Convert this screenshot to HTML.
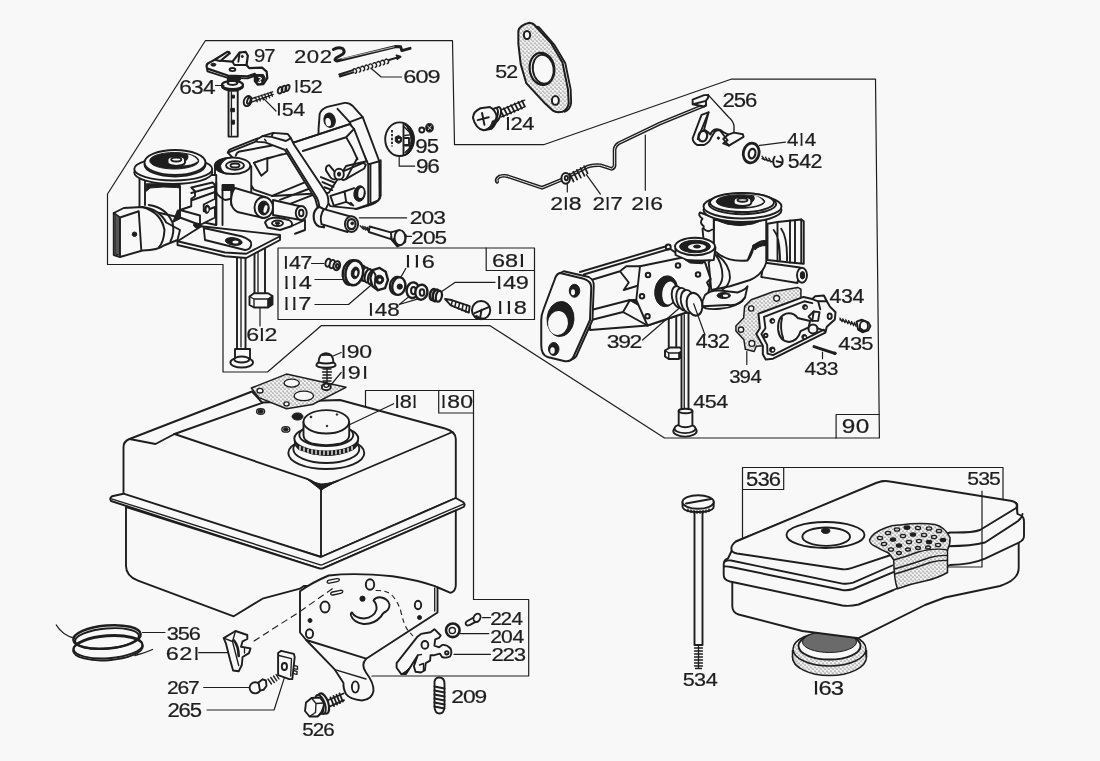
<!DOCTYPE html>
<html lang="en"><head><meta charset="utf-8"><title>Carburetor, fuel tank and air cleaner - exploded parts diagram</title>
<style>
html,body{margin:0;padding:0;background:#f8f8f8;}
body{width:1100px;height:761px;overflow:hidden;font-family:"Liberation Sans",sans-serif;}
svg{display:block;filter:grayscale(1);}
svg *{vector-effect:non-scaling-stroke;}
svg text{font-family:"Liberation Sans",sans-serif;fill:#1e1e1e;stroke:#1e1e1e;stroke-width:0.25;}
.l{vector-effect:non-scaling-stroke;fill:none;stroke:#1e1e1e;stroke-width:1.2;stroke-linecap:round;stroke-linejoin:round;}
.p{vector-effect:non-scaling-stroke;fill:none;stroke:#1e1e1e;stroke-width:1.9;stroke-linecap:round;stroke-linejoin:round;}
.pf{vector-effect:non-scaling-stroke;fill:#f8f8f8;stroke:#1e1e1e;stroke-width:1.9;stroke-linecap:round;stroke-linejoin:round;}
.t{vector-effect:non-scaling-stroke;fill:none;stroke:#1e1e1e;stroke-width:1.35;stroke-linecap:round;stroke-linejoin:round;}
.tf{vector-effect:non-scaling-stroke;fill:#f8f8f8;stroke:#1e1e1e;stroke-width:1.35;stroke-linecap:round;stroke-linejoin:round;}
.h{vector-effect:non-scaling-stroke;fill:none;stroke:#1e1e1e;stroke-width:2.6;stroke-linecap:round;stroke-linejoin:round;}
.k{vector-effect:non-scaling-stroke;fill:#1e1e1e;stroke:#1e1e1e;stroke-width:1;stroke-linejoin:round;}
.g{vector-effect:non-scaling-stroke;fill:#e0e0e0;stroke:#1e1e1e;stroke-width:1.5;stroke-linejoin:round;}
.d{vector-effect:non-scaling-stroke;fill:none;stroke:#1e1e1e;stroke-width:1.1;stroke-dasharray:7 4;}
</style></head>
<body>
<svg width="1100" height="761" viewBox="0 0 1100 761" role="img">
<defs>
<pattern id="st" width="4" height="4" patternUnits="userSpaceOnUse"><rect width="4" height="4" fill="#f1f1f1"/><circle cx="1" cy="1" r=".62" fill="#333"/><circle cx="3" cy="3.1" r=".55" fill="#444"/><circle cx="3.2" cy=".8" r=".3" fill="#666"/></pattern>
<pattern id="st6" width="4" height="4" patternUnits="userSpaceOnUse" patternTransform="scale(6.343)"><rect width="4" height="4" fill="#f1f1f1"/><circle cx="1" cy="1" r=".62" fill="#333"/><circle cx="3" cy="3.1" r=".55" fill="#444"/><circle cx="3.2" cy=".8" r=".3" fill="#666"/></pattern>
<pattern id="st7" width="4" height="4" patternUnits="userSpaceOnUse" patternTransform="scale(6.875)"><rect width="4" height="4" fill="#f1f1f1"/><circle cx="1" cy="1" r=".62" fill="#333"/><circle cx="3" cy="3.1" r=".55" fill="#444"/><circle cx="3.2" cy=".8" r=".3" fill="#666"/></pattern>
<clipPath id="one"><rect x="4.70" y="-15" width="1.92" height="15.1"/></clipPath>
</defs>
<rect x="0" y="0" width="1100" height="761" fill="#f8f8f8"/>
<!-- 00_frame.py -->

<g class="l">
<path d="M205.3 40.7H452.5L454.5 144.7H543.6L731 79.2H875.5L879.4 438H664.5L490 325.7H321.2L267.5 372H223V264.5H107.5V194Z"/>
<rect x="278" y="248" width="256.5" height="71.5"/>
<path d="M486.2 248V270.5H534.5"/>
<path d="M365.5 406.2V390.5H473.5"/>
<path d="M438.7 390.5V413H473.5"/>
<path d="M473.5 390.5V599.5H528.7V676H372"/>
<path d="M742.5 537.5V467.5H1003V500"/>
<path d="M742.5 489.5H783.7V467.5"/>
<path d="M836.1 438V414.5H879.1"/>

</g>

<!-- 10_carbL.py -->

<g id="carbL">
<!-- bolts under plate (target coords) -->
<path class="pf" d="M237 255V349H245.500V255Z"/>
<path class="t" d="M241 258V347"/>
<path class="pf" d="M235 349H250V359.500H235Z"/>
<ellipse class="pf" cx="241.700" cy="362.500" rx="11.300" ry="5"/>
<ellipse class="pf" cx="241.700" cy="359.500" rx="7.500" ry="3"/>
<path class="pf" d="M254.500 248V294H265V248Z"/>
<path class="t" d="M258 250V292"/>
<path class="pf" d="M249.500 296.500L254 293.200H268L272.500 296V304.500L268 307.500H254L249.500 305Z"/>
<path class="t" d="M249.500 296.500L254 299H268L272.500 296M254 299V307.500M268 299V307.500"/>
<path class="k" d="M268 299L272.500 296V304.500L268 307.500Z"/>
<g transform="translate(220 95) scale(.1577)">
<!-- mounting flange -->
<path class="pf" d="M625 330V215L632 120Q640 90 680 75L790 50Q820 48 840 68L905 140L1010 420L1012 650Q1005 680 960 695L870 722L700 705L625 600Z"/>
<path class="p" d="M745 88L822 172L905 140M822 172L940 440L1010 420M940 440L940 700"/>
<ellipse class="k" cx="695" cy="160" rx="36" ry="46" transform="rotate(-12 695 160)"/>
<ellipse cx="686" cy="172" rx="17" ry="27" fill="#f8f8f8" transform="rotate(-12 686 172)"/>
<!-- body box top -->
<path class="pf" d="M50 365L240 290L470 300L822 185L850 215L930 420L800 450L690 620L330 640L215 600L100 420Z"/>
<path class="p" d="M470 300L822 185M525 355L800 268L850 215M800 268Q840 330 872 408"/>
<path class="p" d="M50 365Q55 345 75 340L240 275M100 385Q105 365 125 358L330 320M215 430L395 375M300 400L420 372"/>
<path class="pf" d="M215 430L300 400V480L262 512Z"/>
<!-- butterfly lever -->
<path class="pf" d="M728 488L692 445Q668 450 672 478L700 522Q722 545 738 528ZM780 484L908 430L925 442L915 466L800 532Q776 546 765 530Z"/>
<ellipse class="pf" cx="755" cy="502" rx="30" ry="34"/>
<ellipse class="k" cx="755" cy="502" rx="10" ry="13"/>
<path class="p" d="M640 520L730 558M650 552L720 582M662 585L712 603M800 532L870 400"/>
<!-- lower right hole -->
<ellipse class="k" cx="885" cy="625" rx="36" ry="50" transform="rotate(8 885 625)"/>
<ellipse cx="894" cy="622" rx="17" ry="32" fill="#f8f8f8" transform="rotate(8 894 622)"/>
<circle class="k" cx="830" cy="690" r="8"/>
<path class="p" d="M700 640L790 612L800 678L722 702Z"/>
<path class="p" d="M790 612L850 590M800 678L845 700"/>
<!-- body lower lines -->
<path class="p" d="M330 640L560 545M380 665L590 585M420 700L610 625"/>
<!-- strap -->
</g><g transform="translate(210 125) scale(.13144)">
<path class="pf" d="M352 112L400 85L480 60L592 68L615 100L640 150L880 510Q905 545 900 600L850 700L800 700L822 640L800 560L570 190L420 132L360 128Z"/>
<path class="p" d="M582 183L812 552Q838 600 832 690"/>
<path class="p" d="M480 60L468 90L578 122L615 100M468 90L400 85"/>
<path class="t" d="M415 108l12 14"/>
</g>
<g transform="translate(290 150) scale(.1577)">
<!-- flange lower part & tube 203 / screw 205 -->
<path class="p" d="M575 65V290Q572 312 560 320L500 345L415 375M510 90V330"/>
<path style="stroke-width:2.2" class="pf" d="M185 360Q150 380 150 420Q150 470 185 485L215 490L215 375Z"/>
<path class="pf" d="M215 375L395 425L365 520L200 470Q185 420 215 375Z"/>
<ellipse class="pf" cx="390" cy="470" rx="42" ry="50"/>
<ellipse style="stroke-width:2.2" class="p" cx="390" cy="470" rx="26" ry="32"/>
<circle class="k" cx="395" cy="465" r="9"/>
<path class="t" d="M445 480l20 22M460 483l20 24M475 486l20 26M490 490l18 26"/>
<path class="pf" d="M505 485L650 525L640 565L500 520Z"/>
<path class="pf" d="M640 522L690 508L735 540L730 585L680 612L645 570Z"/>
<ellipse class="pf" cx="697" cy="556" rx="34" ry="48"/>
<path class="k" d="M645 570L680 612L700 604Q670 600 655 560Z"/>
</g>
<g transform="translate(105 100) scale(.25)">
<!-- second cylinder (centre) -->
<path class="pf" d="M440 265V350Q440 380 480 400L585 380V265Z"/>
<ellipse class="pf" cx="510" cy="263" rx="71" ry="33"/>
<path class="k" d="M440 262Q445 235 500 230Q470 240 462 262Q462 285 490 296Q445 290 440 262Z"/>
<ellipse class="pf" cx="520" cy="262" rx="36" ry="17"/>
<ellipse class="p" cx="520" cy="262" rx="18" ry="8"/>
<!-- post + nut between cylinders -->
<path class="pf" d="M470 340H515V360H470Z"/>
<path class="k" d="M472 342H513V356H472Z"/>
<path class="p" d="M470 360V500M505 360V420"/>
<!-- horizontal boss -->
<path class="pf" d="M520 352L640 388L635 472L530 448Q500 430 505 395Q508 365 520 352Z"/>
<ellipse class="pf" cx="635" cy="430" rx="37" ry="42"/>
<ellipse class="k" cx="635" cy="432" rx="22" ry="28"/>
<ellipse cx="642" cy="436" rx="7" ry="16" fill="#f8f8f8" transform="rotate(15 642 436)"/>
<!-- small boss right -->
<path class="pf" d="M672 400L780 425L785 480L672 460Z"/>
<ellipse class="pf" cx="785" cy="452" rx="22" ry="28"/>
<ellipse class="p" cx="785" cy="452" rx="9" ry="13"/>
<!-- lug with hole on plate -->
<path class="pf" d="M640 490Q650 470 690 470L735 480Q755 490 745 505L700 520L650 510Z"/>
<ellipse class="p" cx="690" cy="493" rx="22" ry="11"/>
<ellipse class="k" cx="690" cy="493" rx="9" ry="5"/>
<path class="p" d="M745 505L800 480V520L760 535"/>
<!-- base plate -->
<path class="pf" d="M290 565L385 505L700 540V560L565 632L480 625L290 580Z"/>
<path class="p" d="M290 565L480 610L565 615L700 545"/>
<path class="pf" d="M395 512L545 545Q590 560 585 580Q580 600 560 600L400 560Z"/>
<ellipse class="k" cx="515" cy="566" rx="34" ry="15" transform="rotate(8 515 566)"/>
<ellipse cx="522" cy="568" rx="12" ry="6" fill="#f8f8f8"/>
<!-- body under pump chamber -->
<path class="pf" d="M138 300V430L165 440L300 470L445 500V300Z"/>
<path class="p" d="M160 318V420M300 345V445M445 330V500"/>
<path class="k" d="M165 335H300V352L285 350Q230 345 180 352L165 365Z"/>
<path class="pf" d="M345 350L430 330L440 340V395L395 418V445L440 428V470L380 500L300 470V440L345 425V395L360 385V365Z"/>
<path class="p" d="M345 372L440 345M350 400L440 368M300 440L380 462L380 500"/>
<ellipse class="k" cx="408" cy="437" rx="10" ry="17" transform="rotate(10 408 437)"/>
<ellipse cx="410" cy="438" rx="4" ry="9" fill="#f8f8f8"/>
<path class="k" d="M290 440L300 440V475L270 490Z"/>
<path class="k" d="M355 495Q370 488 385 500Q380 515 365 512Q350 505 355 495Z"/>
<!-- pump chamber top -->
<ellipse class="pf" cx="273" cy="290" rx="156" ry="46"/>
<ellipse class="pf" cx="273" cy="276" rx="156" ry="46"/>
<ellipse class="pf" cx="280" cy="258" rx="122" ry="48"/>
<ellipse class="pf" cx="280" cy="250" rx="122" ry="50"/>
<ellipse class="k" cx="277" cy="243" rx="98" ry="33"/>
<path d="M300 262Q350 262 372 244Q360 222 330 218Q345 235 300 262Z" fill="#f8f8f8"/>
<path class="pf" d="M250 238Q252 225 285 224Q318 225 320 238V250Q318 262 285 264Q252 262 250 250Z"/>
<ellipse class="p" cx="285" cy="238" rx="20" ry="8"/>
<!-- choke lever -->
<path class="pf" d="M35 452L75 432L150 428Q215 435 245 490L300 520L290 560L235 582Q215 600 150 602L60 628L35 620Z"/>
<path class="p" d="M60 470V622M60 470L135 445L145 598M35 452L60 470" />
<path style="stroke-width:2" class="p" d="M175 420Q245 430 270 490Q280 530 262 565M150 428Q225 450 238 520Q235 570 215 590"/>
<path style="fill:#555" class="k" d="M40 455L58 470V620L40 616Z"/>
<circle class="k" cx="118" cy="537" r="9"/>
</g>
</g>

<!-- 11_carbR.py -->

<g id="carbR">
<g transform="translate(530 180) scale(.25)">
<!-- bolts below -->
<path class="pf" d="M555 540V680H585V540Z"/>
<path class="pf" d="M540 682L560 670H600L612 682V705L595 716H555L540 706Z"/>
<path class="k" d="M595 690L612 682V705L595 716Z"/>
<path class="t" d="M540 682L555 692H595L612 682M555 692V716"/>
<path class="pf" d="M606 530V925H634V530Z"/>
<path class="t" d="M617 540V920"/>
<!-- pump chamber body -->
<path class="pf" d="M735 160V290L800 330L870 322L895 262L945 245V160Z"/>
<path class="pf" d="M690 195L735 185V290L700 300Z"/>
<!-- fins right -->
<path class="pf" d="M950 175L990 168L1085 158L1095 165V335L1040 330L950 320Z"/>
<path class="p" d="M990 168V325M1040 162V330M1085 158V332M975 200Q1000 230 1000 320M1005 195Q1030 230 1028 322M1060 165V330"/>
<!-- outlet tube right -->
<path class="pf" d="M935 330L1080 350L1070 412L925 388Z"/>
<ellipse class="pf" cx="1088" cy="381" rx="20" ry="30"/>
<ellipse class="k" cx="1090" cy="381" rx="9" ry="15"/>
<!-- elbow -->
<path class="pf" d="M740 285Q790 330 870 322Q890 300 895 262Q925 240 945 245V330Q930 380 880 400L800 425L725 440L715 330Z"/>
<path style="stroke-width:1.9" class="p" d="M750 300Q800 340 800 390Q798 420 770 438M735 290Q770 330 770 385Q768 420 740 440"/>
<path class="k" d="M890 262L945 245V262Q915 262 900 280Z"/>
<!-- chamber top -->
<path class="k" d="M737 140Q840 196 944 140V156Q840 208 737 158Z"/>
<path class="pf" d="M680 130Q670 140 690 155Q675 170 695 185Q690 200 715 205L735 195V150Z"/>
<ellipse class="pf" cx="850" cy="120" rx="156" ry="48"/>
<ellipse class="pf" cx="850" cy="106" rx="156" ry="48"/>
<ellipse class="pf" cx="850" cy="95" rx="135" ry="42"/>
<ellipse class="pf" cx="848" cy="90" rx="128" ry="38"/>
<ellipse class="k" cx="842" cy="86" rx="97" ry="27"/>
<path d="M860 108Q915 105 935 88Q925 68 895 63Q912 82 860 108Z" fill="#f8f8f8"/>
<path class="pf" d="M815 80Q817 68 850 67Q883 68 885 80V92Q883 103 850 104Q817 103 815 92Z"/>
<ellipse class="p" cx="850" cy="80" rx="20" ry="7"/>
<!-- main body block -->
<path class="pf" d="M215 378L560 275L610 310L700 330L722 395L715 440L700 505L470 582L240 600L245 425Z"/>
<path class="p" d="M200 368L545 265M245 400L360 365L385 345L440 345M360 365L395 410L375 440L440 420M245 520L400 480L425 480M245 560L372 528L400 480M372 528L470 582"/>
<path class="k" d="M395 480L425 480L440 505Z"/>
<!-- front face -->
<path class="pf" d="M440 345L610 310L700 330L722 395L708 410L718 430L700 505L470 582L425 480Z"/>
<ellipse class="k" cx="545" cy="445" rx="46" ry="62" transform="rotate(8 545 445)"/>
<ellipse cx="556" cy="452" rx="27" ry="46" fill="#f8f8f8" transform="rotate(8 556 452)"/>
<g style="stroke-width:2" class="p"><circle cx="472" cy="380" r="9"/><circle cx="592" cy="342" r="9"/><circle cx="672" cy="378" r="9"/><circle cx="448" cy="465" r="9"/><circle cx="470" cy="545" r="9"/></g>
<!-- welch plug 432 -->
<ellipse class="pf" cx="592" cy="468" rx="24" ry="44" transform="rotate(-12 592 468)"/>
<ellipse class="pf" cx="612" cy="477" rx="26" ry="46" transform="rotate(-12 612 477)"/>
<ellipse class="pf" cx="632" cy="486" rx="28" ry="47" transform="rotate(-12 632 486)"/>
<ellipse style="stroke-width:2" class="pf" cx="658" cy="497" rx="31" ry="46" transform="rotate(-12 658 497)"/>
<!-- needle boss on top -->
<path class="pf" d="M582 275V300L640 325L735 320L742 270Z"/>
<ellipse class="pf" cx="660" cy="266" rx="80" ry="35"/>
<ellipse class="k" cx="660" cy="266" rx="62" ry="25"/>
<ellipse cx="668" cy="268" rx="36" ry="13" fill="#f8f8f8"/>
<ellipse class="k" cx="668" cy="266" rx="14" ry="6"/>
<path class="k" d="M618 318L700 322L690 335L640 332Z"/>
<circle class="p" cx="553" cy="268" r="10"/>
<!-- mounting ear -->
<path class="pf" d="M700 460Q720 440 760 442L830 450Q860 440 870 425L860 470Q840 505 790 500L690 505L690 485Z"/>
<ellipse class="k" cx="775" cy="462" rx="27" ry="12"/>
<ellipse cx="782" cy="463" rx="11" ry="5" fill="#f8f8f8"/>
<path class="p" d="M690 505Q700 520 760 515Q830 510 860 470"/>
<!-- flange -->
<path class="pf" d="M135 365L235 388Q258 400 255 425L250 560L185 705Q170 722 150 720L120 372Z"/>
<path style="stroke-width:2" class="pf" d="M120 372L215 395Q245 405 245 430L240 560L175 705Q165 728 140 725L70 708Q45 700 45 660V560Q45 540 55 515L98 400Q105 375 120 372Z"/>
<ellipse class="k" cx="122" cy="556" rx="54" ry="70" transform="rotate(5 122 556)"/>
<ellipse cx="112" cy="572" rx="40" ry="48" fill="#f8f8f8" transform="rotate(5 112 572)"/>
<ellipse class="k" cx="178" cy="443" rx="21" ry="26"/>
<ellipse cx="172" cy="449" rx="8" ry="12" fill="#f8f8f8"/>
<ellipse class="k" cx="95" cy="676" rx="21" ry="26"/>
<ellipse cx="90" cy="682" rx="9" ry="13" fill="#f8f8f8"/>
</g>
<!-- bolt 454 head (target coords) -->
<ellipse class="pf" cx="685" cy="431" rx="11.700" ry="5.600"/>
<ellipse class="pf" cx="685" cy="428.500" rx="10.500" ry="4.600"/>
<path class="pf" d="M678.700 411V425.500Q685 429 692.400 425.500V411Z"/>
<ellipse class="pf" cx="685.500" cy="411" rx="6.900" ry="2.200"/>
</g>

<!-- 12_pumpcover.py -->

<g id="pumpcover">
<g transform="translate(725 270) scale(.14545)">
<!-- gasket 394 -->
<path style="fill:url(#st7)" class="g" d="M75 385L128 330L135 250L180 205L330 150L500 120L522 132V200L300 330L260 520L215 525L200 560L140 545L130 480L75 420Z"/>
<g class="tf"><circle cx="180" cy="265" r="18"/><circle cx="355" cy="195" r="20"/><circle cx="110" cy="410" r="18"/><circle cx="185" cy="505" r="20"/></g>
<!-- cover 434 -->
<path style="stroke-width:2" class="pf" d="M230 300L540 185L600 200L620 180L680 175L700 215L720 250L760 290L755 340L700 390L690 430L330 610L280 615L260 580L260 520L215 440L240 400Z"/>
<path class="p" d="M268 322L545 215L600 228M268 322L278 400L250 440L290 515L292 575L330 585L680 410"/>
<path class="p" d="M600 200L640 215L700 215M640 215L655 270"/>
<!-- keyhole -->
<path style="stroke-width:2" class="p" d="M500 330Q470 290 420 300Q360 320 365 410Q375 490 440 495Q500 490 520 420L575 395L585 350L520 335Z"/>
<path class="p" d="M392 330Q375 400 400 470"/>
<!-- holes -->
<g class="k"><circle cx="325" cy="350" r="17"/><circle cx="550" cy="255" r="17"/><circle cx="545" cy="460" r="17"/><circle cx="325" cy="548" r="19"/></g>
<g fill="#f8f8f8"><circle cx="329" cy="353" r="7"/><circle cx="554" cy="258" r="7"/><circle cx="549" cy="463" r="7"/><circle cx="329" cy="551" r="8"/></g>
<circle class="p" cx="280" cy="450" r="12"/>
<ellipse class="p" cx="720" cy="318" rx="14" ry="19"/>
<circle style="stroke-width:2" class="pf" cx="605" cy="405" r="31"/>
<path class="p" d="M635 400L690 420"/>
<path class="pf" d="M575 320L610 285L650 290L640 350L600 350Z"/>
<path class="p" d="M610 285L600 350"/>
<!-- screw 435 -->
<path class="t" d="M790 330l15 25M810 336l15 26M830 342l15 27M850 348l15 28M870 354l15 29M890 360l12 28M790 342L900 376"/>
<path class="pf" d="M905 355L940 342L985 360L1000 385L985 415L945 428L915 410Z"/>
<ellipse class="p" cx="955" cy="385" rx="28" ry="34"/>
<path class="k" d="M915 410L945 428L985 415Q950 420 925 395Z"/>
<!-- pin 433 -->
<path style="stroke-width:3" class="p" d="M612 527L755 573"/>
<circle class="k" cx="756" cy="573" r="9"/>
</g>
</g>

<!-- 20_tank.py -->

<g id="tank">
<!-- upper body -->
<path class="pf" d="M123.5 496V447Q123.5 441.5 129.5 439L252 391.5L262 402.5L340 400L445 428.5Q455.8 431.5 455.8 439V498L321 557Z"/>
<!-- notch and top face edges -->
<path class="p" d="M129.5 439L155.5 444L174.5 434"/>
<path class="p" d="M174.5 434L262.3 402.8"/>
<path class="p" d="M174.5 434L307 478.8Q317 482.5 321 489.5"/>
<path class="p" d="M452.5 432L338.5 480.5Q325 485.5 321 489.5"/>
<path class="p" d="M321 489.5V556.5"/>
<path class="k" d="M306 478.3L321 490L336.5 481.3Q326 484 321 484Q314 483 306 478.3Z"/>
<!-- flange -->
<path class="pf" d="M123.5 493.7L112 496.3Q109 498 111 501L319 568.3Q321 569 323 568.3L463.5 507Q466 504.5 463 502L455.8 498L321 557Z"/>
<path class="t" d="M111.5 498.8L319.5 564.7Q321 565.3 322.5 564.7L464 503.8"/>
<!-- lower body -->
<path class="pf" d="M126 507V566Q126 576 138 580.7L233.7 616.3L262.5 598.7L300 588.7L303.8 586L436.8 587L450.6 592.8Q455.8 591 455.8 585V510.5L323 568.3Q321 569 319 568.3Z"/>
<!-- tank top small holes -->
<ellipse class="k" cx="260.6" cy="411.5" rx="2.6" ry="1.8"/>
<ellipse class="t" cx="260.6" cy="411.5" rx="4" ry="2.8"/>
<ellipse class="k" cx="285.8" cy="429.4" rx="2.4" ry="1.7"/>
<ellipse class="t" cx="285.8" cy="429.4" rx="4" ry="2.8"/>
<!-- cap -->
<ellipse class="pf" cx="326.3" cy="453" rx="38" ry="16"/>
<ellipse class="pf" cx="326.3" cy="449" rx="33" ry="14"/>
<path class="k" d="M294.3 440Q294 446 299 449.5Q312 455.5 326.3 455.5Q341 455.5 353.5 449.5Q358.5 446 358.3 440Q357 445 349 448Q338 451 326.3 451Q314 451 303 448Q295 445 294.3 440Z"/>
<ellipse class="pf" cx="326.3" cy="438.5" rx="32" ry="13"/>
<ellipse class="pf" cx="326.3" cy="435" rx="27" ry="11"/>
<path class="pf" d="M303.5 422V435.5Q303.5 441 313 443.8Q326 446.5 339.5 443.8Q349.2 441 349.2 435.5V422Z"/>
<ellipse class="pf" cx="326.3" cy="421.8" rx="22.8" ry="11.7"/>
<ellipse class="k" cx="297.5" cy="416.5" rx="5.5" ry="3.6"/>
<circle class="k" cx="311" cy="417" r="0.9"/><circle class="k" cx="337" cy="414.5" r="0.8"/><circle class="k" cx="327" cy="426" r="0.8"/>
<g style="stroke:#f8f8f8" class="t"><path stroke="#f8f8f8" d="M300 446.5v3M304 448v3M308 449.3v3M312 450v3.2M316 450.6v3.3M320 451v3.4M324 451.2v3.4M328 451.2v3.4M332 451v3.4M336 450.7v3.3M340 450.2v3.2M344 449.4v3M348 448.2v3M352 446.6v3"/></g>
<!-- gasket under 190/191 -->
<path style="fill:url(#st)" class="g" d="M251.3 388L286.5 374.1L346 387.3L312.4 404.5L286.5 408.7L258.9 397.6Z"/>
<ellipse class="tf" cx="291.7" cy="383.1" rx="7.6" ry="4"/>
<ellipse class="tf" cx="303.8" cy="395.9" rx="9.7" ry="4.8"/>
<ellipse class="tf" cx="260" cy="390.7" rx="3" ry="2.3"/>
<ellipse class="tf" cx="286.5" cy="403.9" rx="2.6" ry="2"/>
<!-- screw 190 / spring 191 -->
<path class="t" d="M323 369h8M322.5 372h9M323 375h8M322.5 378h9M323 381h8M327 368V383"/>
<ellipse class="pf" cx="326.3" cy="387" rx="4.5" ry="3.2"/>
<ellipse class="tf" cx="326.3" cy="385.6" rx="2.4" ry="1.7"/>
<path class="pf" d="M316.5 364.5Q315.5 367.5 326 367.8Q336.5 367.5 335.5 364.5Q335 361.5 326 361.5Q317 361.5 316.5 364.5Z"/>
<path class="pf" d="M318.5 362.5Q319 353.3 326 353.3Q333 353.3 333.5 362.5Q326 364.5 318.5 362.5Z"/>
<path class="k" d="M322 355.5Q326 352.5 330.5 355.5Q326 354.8 322 355.5Z"/>
</g>

<!-- 30_bracket.py -->

<g id="bracket">
<!-- dashed guide lines -->
<path class="d" d="M253.7 641.2L300 611.5"/>
<!-- plate -->
<path class="pf" d="M300 591.2Q312 582.5 328.7 575.5Q355 572.5 392.5 576.2Q418 580 435 586.2L437.5 587.5V612.5L366.2 658.7Q360.5 665 366 672.5Q374 683 373.5 691Q372 699.5 362 700.5Q350 699.5 346 694Q343 688 343.5 683L334.9 669.7L306.2 640L300 632.5Z"/>
<path class="t" d="M434.7 588V611"/>
<path class="p" d="M306.2 640L366.2 658.7"/>
<path class="t" d="M334.9 669.7L366 679"/>
<!-- holes -->
<ellipse class="p" cx="370" cy="584.5" rx="4.2" ry="5.2"/>
<ellipse class="p" cx="325" cy="607" rx="4.5" ry="5.5"/>
<ellipse class="p" cx="418" cy="605" rx="3.2" ry="4.2"/>
<ellipse class="p" cx="309.5" cy="633.7" rx="3.6" ry="4.4"/>
<ellipse class="p" cx="355.3" cy="687" rx="3.4" ry="5.6"/>
<circle class="k" cx="362.5" cy="598.7" r="2.6"/>
<circle class="k" cx="310" cy="620.5" r="2"/>
<circle class="k" cx="419.5" cy="617.5" r="2"/>
<path class="t" d="M329 580.2l8-1.6q2.500-.2 2.300 1.400q-.2 1.300-2.300 1.700l-7.500 1.500q-2.300.2-2.300-1.300q.1-1.300 1.800-1.700Z"/>
<path class="t" d="M332.500 592l8-1.700q2.500-.2 2.300 1.400q-.2 1.300-2.300 1.700l-7.500 1.600q-2.300.2-2.300-1.300q.1-1.300 1.800-1.700Z"/>
<!-- J slot -->
<path class="p" d="M352 612.500Q355 618 364 618.500Q374 617.500 376.500 609.500Q377 604 373.500 600.500Q376 596.500 381.500 597.500Q388 599 389.500 604.500Q389.500 609 386 611.500Q383 612.500 381 616.500Q374 624.500 363.500 624Q353.500 622.500 351 615.500Q350.500 613 352 612.500Z"/>
<!-- dashed curve on plate -->
<path class="d" d="M300 611.5L334 587.5"/>
<path style="stroke-dasharray:5 3.5" class="d" d="M375.7 590.5Q388 590 393.5 597Q399 604 401 612Q404 625 408 630.5L413 636"/>
</g>
<g id="lever223">
<path class="pf" d="M396.6 663.1L417.1 637.1L421 633.9L430.5 632.3L434.4 629.2L440.7 635.5L439.1 637.8L435.2 639.4L434.4 645.7L439.1 647.3L442.3 644.9Q447 644.5 450.500 648.500Q452.500 653 450 656.500Q446 658.500 442 657L439.900 653.600L434.400 655.200L430.500 655.200L430.100 660.700L425.700 663.100L424.900 670.200L421 672.500L415.500 671.700L413.900 666.200L417.800 655.200L406 674.100L401.300 674.100L396.600 667.800Z"/>
<path class="k" d="M401.300 674.100L406 674.100L411.500 665.500L406 671Z"/>
<ellipse class="p" cx="424.9" cy="644.9" rx="3.4" ry="3.9"/>
<circle class="p" cx="446.8" cy="652.8" r="1.700"/>
<path class="t" d="M417.800 655.200L421.500 654.500M419.500 665L423.500 663.500V670"/>
</g>
<g id="small-tank-parts">
<!-- washer 204 -->
<circle style="stroke-width:2.600" class="pf" cx="452.8" cy="630.3" r="6.800"/>
<circle class="t" cx="452.3" cy="630.6" r="3.100"/>
<!-- screw 224 -->
<path class="pf" d="M466.500 625Q464.500 623 467 621.300L474 617.300L477.500 620.800L470 624.800Q468 626 466.500 625Z"/>
<ellipse class="pf" cx="477" cy="617.800" rx="3.300" ry="4.300" transform="rotate(25 477 617.800)"/>
<!-- spring 209 -->
<g class="p"><path d="M434.500 684Q434 677.500 439.300 677.500Q444.500 677.500 444.500 684M434.500 684V707M444.500 684V707M434.500 707Q435 713.500 439.500 713.500Q444 713.500 444.500 707"/>
<path d="M434.500 686.500l10 2M434.500 690.500l10 2M434.500 694.500l10 2M434.500 698.500l10 2M434.500 702.500l10 2M434.500 706.500l10 2" stroke-width="2"/></g>
<!-- clip 621 -->
<path class="pf" d="M223.700 638.100L235.500 631L247.300 635V639L242.600 641.300L241 646.800L250.500 648.400L249 653.100L242.600 657L241.800 665L238.700 671.300L233.100 670.500L230 659.400L226 643.700Z"/>
<path class="h" d="M234 640.500Q238.500 646 238.700 656"/>
<path class="t" d="M223.700 638.100L232.500 641.500L235.500 631M232.500 641.500L238.700 665.500M244.500 648.500v4.500"/>
<!-- clip 265 -->
<path class="pf" d="M278.100 653.100L281.200 650.800L293.900 653.900L294.700 657L292.300 679.100L289.200 679.100L278.100 675.200Z"/>
<path class="t" d="M278.900 655.500L291.500 658.600L290.700 676M294 665.500l3.500 0.800v3l-3.800-.700M293.500 670.500l3.500 0.800v3l-3.700-.700"/>
<ellipse class="p" cx="284.400" cy="666.500" rx="2.600" ry="3.500"/>
<!-- screw 267 -->
<circle class="pf" cx="255.200" cy="687.800" r="5.600"/>
<path class="pf" d="M258.500 682.500l4.200-3.200l3.200 1.200l.6 5.500l-3 3.800l-3.500.8Z"/>
<path class="t" d="M268 679l3.500 5M270.800 677.500l3.500 5M273.500 676l3.300 4.800M276 674.500l3 4.500"/>
<!-- bolt 526 -->
<path class="p" d="M326 701l17.500-7.500M328.500 707l15.500-6.800"/>
<path style="stroke-width:1.900" class="p" d="M330.500 697.500l3.500 8.500M333.500 696l3.500 8.500M336.500 694.800l3.500 8.300M339.500 693.500l3.300 8"/>
<ellipse style="stroke-width:2.200" class="pf" cx="323.500" cy="703.500" rx="4.800" ry="10.500" transform="rotate(-18 323.500 703.500)"/>
<ellipse class="pf" cx="320.500" cy="704.500" rx="4.500" ry="10" transform="rotate(-18 320.500 704.500)"/>
<path class="pf" d="M306 702.500L311.500 698L320 697.500L324 703L323 712L317.500 716.500L309.500 716.500L305 711Z"/>
<path class="t" d="M311.500 698L316 703.500L315.500 712.500L309.500 716.500M316 703.500L324 703"/>
<path class="k" d="M317.500 716.500L323 712L324 705Q321.500 712 317.500 716.500Z"/>
</g>

<!-- 40_aircleaner.py -->

<g id="aircleaner">
<!-- gasket 163 (drawn first, body overlaps top) -->
<ellipse style="fill:url(#st)" class="g" cx="829.5" cy="657" rx="37" ry="18.5"/>
<path style="fill:#cfcfcf" class="g" d="M792.500 650V657Q793 664 800 668M866.500 650V657"/>
<ellipse style="fill:url(#st)" class="g" cx="829.5" cy="649" rx="36.5" ry="17"/>
<ellipse class="pf" cx="829.5" cy="646" rx="31" ry="13.500"/>
<ellipse style="fill:#6a6a6a" class="k" cx="829.5" cy="642" rx="27" ry="10.5"/>
<!-- lower body -->
<path class="pf" d="M732.3 580V606Q732.3 612.5 738.6 614.5L802.3 631L858.6 638.2L925 605L945 597.5L1000 586Q1018.7 580 1018.7 568V540L850 600Z"/>
<!-- rim band -->
<path class="pf" d="M723.7 565Q723.5 560 728 558.5L736 541.5L882.5 481.2L1016.2 503L1017.5 514L1021 515.5Q1024 517 1024 521V536Q1024 540 1019 542.5L985 558.7Q972 564.5 950 565L893.5 590L858.6 604.5Q850 606.5 842.3 605.5L730 581.5Q723.7 580 723.7 575Z"/>
<!-- top face -->
<path class="pf" d="M731.4 549Q731 545 736 541.5L876 483Q883.7 480 890 481.5L1012 501Q1018.5 503 1016.2 508L980 530Q972 533 950 532.5L892.3 554.5L851.4 568.2Q846 570 840.5 569L737 553.5Q731.5 552.5 731.4 549Z"/>
<!-- rim lines front-left -->
<path class="p" d="M725 561.5Q727 560 731 560.5L842.3 583.6Q848 584.3 853.2 582.7L892.3 565.5"/>
<path class="p" d="M724.5 566.5Q726.5 566 731 567L842.3 590Q848 590.7 853.2 589L894 571.8"/>
<!-- rim lines right -->
<path class="p" d="M947.5 546.2Q972 546 985 542.5L1018 521Q1022 518 1022.5 514"/>
<path class="t" d="M1017.5 504V514"/>
<!-- circles on top -->
<ellipse class="p" cx="825.5" cy="535" rx="39" ry="13"/>
<ellipse class="p" cx="826.200" cy="536.700" rx="23.800" ry="9.200"/>
<ellipse class="k" cx="825.700" cy="530.800" rx="4.200" ry="2.600"/>
<!-- foam 535 -->
<path style="fill:url(#st)" class="g" d="M869.500 540Q872 533 885 528Q893 524.500 900 525Q920 522.500 935 524.500Q945 527 950 537.500Q950.500 544 947.500 550V572.500Q938 578 925 581Q910 584 897.500 588.700Q894 580 893.700 560Q890 554 887.500 552.500Q880 549.500 875 546.200Q870 544 869.500 540Z"/>
<path class="t" d="M893.7 560Q905 557 918 552Q935 547.5 947.5 550M894.5 569Q915 563 930 557.5Q940 555 947.5 555.5M895 574Q915 568 930 562.5Q940 560 947.5 560.5"/>
<g style="fill:none" class="t"><ellipse cx="880" cy="538" rx="2.600" ry="1.600"/><ellipse cx="888" cy="533" rx="2.600" ry="1.600"/><ellipse cx="897" cy="529.500" rx="2.600" ry="1.600"/><ellipse cx="907" cy="527.500" rx="2.800" ry="1.700" fill="#1e1e1e"/><ellipse cx="918" cy="528" rx="2.600" ry="1.600"/><ellipse cx="929" cy="528.500" rx="2.600" ry="1.600"/><ellipse cx="939" cy="531" rx="2.600" ry="1.600"/>
<ellipse cx="884" cy="544" rx="2.600" ry="1.600"/><ellipse cx="893" cy="539.500" rx="2.600" ry="1.600" fill="#1e1e1e"/><ellipse cx="903" cy="536" rx="2.600" ry="1.600"/><ellipse cx="913" cy="534.500" rx="2.600" ry="1.600" fill="#1e1e1e"/><ellipse cx="924" cy="535" rx="2.600" ry="1.600"/><ellipse cx="934" cy="537" rx="2.600" ry="1.600"/><ellipse cx="943" cy="540" rx="2.600" ry="1.600" fill="#1e1e1e"/>
<ellipse cx="891" cy="549.500" rx="2.600" ry="1.600"/><ellipse cx="899" cy="545.500" rx="2.600" ry="1.600" fill="#1e1e1e"/><ellipse cx="909" cy="542" rx="2.600" ry="1.600"/><ellipse cx="919" cy="541" rx="2.600" ry="1.600"/><ellipse cx="929" cy="542" rx="2.600" ry="1.600" fill="#1e1e1e"/><ellipse cx="938" cy="545" rx="2.600" ry="1.600"/>
<ellipse cx="899" cy="553" rx="2.400" ry="1.500"/><ellipse cx="908" cy="549.500" rx="2.400" ry="1.500"/><ellipse cx="918" cy="548" rx="2.400" ry="1.500"/><ellipse cx="928" cy="547.500" rx="2.400" ry="1.500"/></g>
<!-- screw 534 -->
<path class="pf" d="M694.500 508H702.500V645H694.500Z"/>
<path style="stroke-width:1.300" class="t" d="M694.500 648h8M694.500 651h8M694.500 654h8M694.500 657h8M694.500 660h8M694.500 663h8M694.500 666h8M695.500 668.500h6M698.500 645v23"/>
<path class="pf" d="M682.500 502V506.500Q683 512 698 512Q713.500 512 713.700 506.500V502Z"/>
<ellipse class="pf" cx="698.100" cy="502" rx="15.600" ry="6.800"/>
<path style="stroke-width:2" class="p" d="M686 503.500L711 499"/>
<path class="t" d="M688 509v2.500M691 510v2.500M694 510.500v2.500M697 510.800v2.500M700 510.800v2.500M703 510.500v2.500M706 510v2.500M709 509v2.500"/>
</g>

<!-- 50_small.py -->

<g id="small-parts">
<g transform="translate(490 120) scale(.1577)">
<!-- rod 216 -->
<path style="stroke-width:3.7" class="h" d="M45 392Q35 375 60 358Q85 350 110 356L330 430L470 372L600 305Q640 283 700 287Q745 300 770 310Q792 305 790 280V185Q795 160 815 148L1078 22L1365 -95"/>
<path style="stroke:#f8f8f8;stroke-width:0.9" class="h" d="M45 392Q35 375 60 358Q85 350 110 356L330 430L470 372L600 305Q640 283 700 287Q745 300 770 310Q792 305 790 280V185Q795 160 815 148L1078 22L1365 -95"/>
<!-- spring 217 -->
<path style="stroke-width:1.7" class="p" d="M505 340l25 50M528 328l25 50M551 316l25 50M574 304l25 50M597 292l22 46"/>
<!-- washer 218 -->
<ellipse style="stroke-width:2" class="pf" cx="480" cy="370" rx="27" ry="34"/>
<ellipse class="p" cx="484" cy="368" rx="10" ry="14"/>
</g>
<g transform="translate(685 90) scale(.12727)">
<!-- bracket 256 -->
<path class="pf" d="M60 75L150 40L182 38L182 60L165 85L165 115L150 130L60 112Z"/>
<path class="p" d="M62 112L165 85"/>
<path class="t" d="M182 38L340 210Q385 250 385 285V335"/>
<path class="pf" d="M185 175L130 195L60 380Q62 410 95 432L150 432Q195 410 205 375L232 330Q250 312 275 318L335 395L300 420L345 437L460 368L455 348L385 335L340 350L300 330Q270 300 235 310Q210 320 200 350L180 330L150 310Z"/>
<path class="p" d="M185 175L100 385M345 437L300 385L340 350"/>
<ellipse style="stroke-width:2.2" class="p" cx="140" cy="362" rx="34" ry="42" transform="rotate(15 140 362)"/>
<circle class="k" cx="262" cy="378" r="9"/>
<!-- washer 414 -->
<ellipse style="stroke-width:2.800" class="pf" cx="520" cy="495" rx="62" ry="78" transform="rotate(12 520 495)"/>
<ellipse style="stroke-width:2.200" class="p" cx="527" cy="500" rx="26" ry="38" transform="rotate(12 527 500)"/>
<!-- screw 542 -->
<path class="t" d="M605 520l22 30M632 528l20 30M658 536l18 30M605 540L690 565"/>
<path class="p" d="M705 525Q680 560 705 600Q740 615 765 580Q775 540 750 518M720 560L760 570"/>
</g>
<g transform="translate(460 20) scale(.15765)">
<!-- gasket 52 -->
<path style="fill:url(#st6);stroke-width:2" class="g" d="M370 70Q378 32 440 18Q468 22 480 40L580 150L650 270L685 440L690 530Q680 572 650 582Q610 590 590 575L540 530L420 400L385 280L370 150Z"/>
<path class="p" d="M480 40L500 45L600 160L668 275L702 440L705 525Q700 565 665 582"/>
<ellipse style="stroke-width:2.200" class="tf" cx="520" cy="310" rx="78" ry="102" transform="rotate(-8 520 310)"/>
<ellipse class="p" cx="528" cy="312" rx="66" ry="92" transform="rotate(-8 528 312)"/>
<ellipse style="stroke-width:2" class="tf" cx="425" cy="95" rx="20" ry="26"/>
<ellipse style="stroke-width:2" class="tf" cx="605" cy="510" rx="22" ry="28"/>
<!-- bolt 124 -->
<path style="stroke-width:1.8" class="p" d="M255 570l22 42M278 560l22 42M301 550l22 42M324 540l22 42M347 530l22 42M370 520l22 42M393 512l18 36"/>
<path class="t" d="M250 575L410 508M262 615L412 550"/>
<ellipse style="stroke-width:2" class="pf" cx="232" cy="602" rx="24" ry="52" transform="rotate(20 232 602)"/>
<ellipse style="stroke-width:2" class="pf" cx="212" cy="610" rx="24" ry="54" transform="rotate(20 212 610)"/>
<path style="stroke-width:2" class="pf" d="M82 620Q85 580 130 560L190 552Q225 570 232 610Q235 660 200 690L150 700Q100 690 82 620Z"/>
<path class="k" d="M232 610Q235 660 200 690L150 700Q200 680 205 640Q225 640 232 610Z"/>
<path style="stroke-width:2" class="p" d="M140 590l15 75M112 635l70-18"/>
</g>
<g transform="translate(175 40) scale(.15455)">
<!-- shaft 634 -->
</g><g transform="translate(195 40) scale(.13146)">
<path class="pf" d="M255 385V735H325V385Z"/>
<path class="t" d="M277 395V725"/>
<path class="k" d="M277 420H300V442H277ZM272 520H300V546H272ZM277 610H300V640H277Z"/>
<ellipse class="pf" cx="285" cy="352" rx="80" ry="32"/>
<ellipse style="stroke-width:2.200" class="pf" cx="285" cy="342" rx="80" ry="32"/>
<ellipse class="p" cx="285" cy="326" rx="38" ry="16"/>
<path class="k" d="M245 275H345V305Q330 318 322 325Q285 300 248 325Z"/>
<!-- lever 97 -->
<path style="stroke-width:2.200" class="pf" d="M88 200Q88 178 110 172L150 150L245 90Q262 88 265 100L195 158L285 165L340 95L385 90L402 120L392 190L412 214L510 210L545 240L550 290L520 335L478 340L455 312L455 258L400 276L250 270L95 218Q88 212 88 200Z"/>
<path class="p" d="M92 222L95 238L250 288L400 292L455 272"/>
<path class="p" d="M150 150L190 160M285 165L300 190L392 190M340 95L330 165"/>
<ellipse class="k" cx="140" cy="188" rx="19" ry="11"/>
<ellipse class="p" cx="285" cy="225" rx="22" ry="12"/>
<circle class="k" cx="360" cy="125" r="8"/>
<path class="k" d="M455 262L520 262L535 290L515 330L480 335L458 310Z"/>
<path d="M482 285Q500 280 505 295Q498 305 488 305Q502 310 500 322Q490 328 478 320" fill="none" stroke="#f8f8f8" stroke-width="1.2"/>
</g><g transform="translate(175 40) scale(.15455)">
<!-- screw 154 + spring 152 -->
<ellipse class="pf" cx="470" cy="395" rx="24" ry="34" transform="rotate(20 470 395)"/>
<ellipse class="p" cx="478" cy="392" rx="10" ry="22" transform="rotate(20 478 392)"/>
<path class="t" d="M495 380L632 335M500 400L636 352M520 370l12 30M540 364l12 30M560 357l12 30M580 351l12 30M600 344l12 30M620 338l10 26"/>
<ellipse class="p" cx="680" cy="325" rx="14" ry="22" transform="rotate(20 680 325)"/>
<ellipse class="p" cx="705" cy="317" rx="14" ry="22" transform="rotate(20 705 317)"/>
<ellipse class="p" cx="728" cy="310" rx="12" ry="20" transform="rotate(20 728 310)"/>
</g>
<!-- link 202 (target coords) -->
<path style="stroke-width:2.900" class="h" d="M333.300 49.500Q338 46.500 342.700 48.500Q345.500 51.500 343 54L336 58Q333.500 60.500 336.800 61L395.900 46.500L400.700 46.800L401.800 50.600L410.100 48.300"/>
<path style="stroke:#f8f8f8;stroke-width:0.700" class="t" d="M342 58.800L394 46.900"/>
<!-- spring link 609 -->
<path class="p" d="M339.200 74.500L353 70.200M339.800 76.500L353.500 72.300M389 60L400.300 56.700M396.500 55.500l4 1.200l-3.200 2.300"/>
<path style="stroke-width:1.400" class="t" d="M353 69.500q2 -2 3.500 0.800q.5 2.500 -1.200 3M357 68.300q2 -2 3.500 0.800q.5 2.500 -1.200 3M361 67.100q2 -2 3.500 0.800q.5 2.500 -1.200 3M365 65.900q2 -2 3.500 0.800q.5 2.500 -1.200 3M369 64.700q2 -2 3.500 0.800q.5 2.500 -1.200 3M373 63.500q2 -2 3.500 0.800q.5 2.500 -1.200 3M377 62.300q2 -2 3.500 0.800q.5 2.500 -1.200 3M381 61.100q2 -2 3.500 0.800q.5 2.500 -1.200 3M385 59.900q2 -2 3.500 0.800q.5 2.500 -1.200 3"/>
<!-- throttle plate 95 / screw 96 -->
<ellipse style="stroke-width:1.900" class="pf" cx="399.600" cy="139.200" rx="14.400" ry="16.800"/>
<path class="k" d="M404 123.500Q412 128 413.800 137Q414.500 145 410.500 151.500Q408.500 154 405 155.500Q410 149 411 141Q411 131 404 123.500Z"/>
<path class="p" d="M403.500 124V155"/>
<path class="t" d="M403.900 126.500L411.600 134.600L404.800 135.500M404.800 145.700L412.300 145.700L405 152.500"/>
<path class="p" d="M404.800 138H409V145H404.800"/>
<path style="stroke-dasharray:2.400 1.500;stroke-width:1.800" class="d" d="M392 130V146.500"/>
<path class="k" d="M395.300 137L398.600 135.500L401.600 137.500V141.500L398.600 143.500L395.300 141.500Z"/>
<circle cx="399" cy="139.800" r="1" fill="#f8f8f8"/>
<circle class="p" cx="421.800" cy="130" r="2.500"/>
<ellipse class="k" cx="429.500" cy="127.800" rx="3.800" ry="4.300"/>
<path d="M427.500 126l4 3.500M431.500 125.500l-3.500 4.500" fill="none" stroke="#f8f8f8" stroke-width="0.800"/>
</g>

<!-- 55_box681.py -->

<g id="box681">
<g transform="translate(315 248) scale(.16364)">
<!-- 147 -->
<ellipse class="pf" cx="80" cy="90" rx="15" ry="25" transform="rotate(15 80 90)"/>
<ellipse class="pf" cx="105" cy="98" rx="15" ry="26" transform="rotate(15 105 98)"/>
<ellipse style="stroke-width:2" class="pf" cx="133" cy="108" rx="20" ry="28" transform="rotate(15 133 108)"/>
<ellipse class="p" cx="136" cy="110" rx="8" ry="12"/>
<!-- 117 spring (behind) -->
<g style="stroke-width:2.200" class="pf"><ellipse cx="285" cy="150" rx="20" ry="42" transform="rotate(15 285 150)"/><ellipse cx="305" cy="160" rx="20" ry="42" transform="rotate(15 305 160)"/><ellipse cx="325" cy="170" rx="20" ry="42" transform="rotate(15 325 170)"/><ellipse cx="345" cy="180" rx="20" ry="42" transform="rotate(15 345 180)"/></g>
<!-- 114 washer -->
<ellipse style="stroke-width:2.400" class="pf" cx="222" cy="150" rx="52" ry="76" transform="rotate(10 222 150)"/>
<ellipse style="stroke-width:2.600" class="pf" cx="240" cy="152" rx="54" ry="76" transform="rotate(10 240 152)"/>
<ellipse class="k" cx="246" cy="152" rx="24" ry="36" transform="rotate(10 246 152)"/>
<ellipse cx="250" cy="154" rx="9" ry="18" fill="#f8f8f8" transform="rotate(10 250 154)"/>
<!-- nut -->
<path style="stroke-width:2.400" class="pf" d="M352 135L395 122L432 145L446 195L428 245L385 258L350 232L338 185Z"/>
<circle class="k" cx="393" cy="193" r="27"/>
<circle cx="396" cy="195" r="9" fill="#f8f8f8"/>
<path class="p" d="M352 135L370 165L365 225L385 258"/>
<!-- 116 -->
<ellipse style="stroke-width:2.200" class="pf" cx="498" cy="230" rx="40" ry="54" transform="rotate(10 498 230)"/>
<ellipse style="stroke-width:2.400" class="pf" cx="512" cy="233" rx="40" ry="54" transform="rotate(10 512 233)"/>
<circle class="k" cx="518" cy="236" r="16"/>
<!-- 148 -->
<ellipse style="stroke-width:2.400" class="pf" cx="598" cy="258" rx="38" ry="48" transform="rotate(10 598 258)"/>
<ellipse style="stroke-width:2" class="p" cx="602" cy="260" rx="15" ry="22"/>
<ellipse style="stroke-width:2.400" class="pf" cx="650" cy="270" rx="37" ry="46" transform="rotate(10 650 270)"/>
<ellipse style="stroke-width:2" class="p" cx="654" cy="272" rx="14" ry="20"/>
<!-- 149 -->
<ellipse style="stroke-width:2.600" class="pf" cx="722" cy="285" rx="20" ry="34" transform="rotate(12 722 285)"/>
<ellipse style="stroke-width:2.600" class="pf" cx="740" cy="290" rx="20" ry="36" transform="rotate(12 740 290)"/>
<ellipse style="stroke-width:2.200" class="pf" cx="757" cy="295" rx="18" ry="34" transform="rotate(12 757 295)"/>
<!-- 118 -->
<path class="pf" d="M795 312L835 318L945 355L940 395L830 350Z"/>
<path style="stroke-width:1.500" class="t" d="M840 320l-8 30M862 327l-8 34M884 334l-8 38M906 342l-8 40M928 349l-8 42"/>
<circle style="stroke-width:2" class="pf" cx="1015" cy="380" r="56"/>
<path style="stroke-width:2" class="p" d="M975 398L1065 360M1018 378L1008 432"/>
<path class="k" d="M975 425Q1000 445 1040 430Q1005 432 985 410Z"/>
</g>
</g>
<g id="clamp356">
<g transform="translate(40 540) scale(.25)">
<ellipse class="p" cx="272" cy="427" rx="138" ry="46" transform="rotate(-4 272 427)"/>
<ellipse class="p" cx="272" cy="433" rx="140" ry="48" transform="rotate(-4 272 433)"/>
<ellipse style="stroke-width:2.500" class="h" cx="268" cy="388" rx="135" ry="46" transform="rotate(-5 268 388)"/>
<ellipse class="p" cx="268" cy="394" rx="128" ry="40" transform="rotate(-5 268 394)"/>
<path class="t" d="M65 340Q90 380 135 392M380 462Q420 452 450 438"/>
</g>
</g>

<!-- 80_leaders.py -->
<g class="l" id="leaders"><path d="M215.5 85.5H224"/><path d="M263.7 98.7L276 111"/><path d="M371 68.2L381.2 77H401.5"/><path d="M399.2 156.8V166.2H414.6"/><path d="M567.3 183.9V192"/><path d="M586.2 174.4L600.4 194.1"/><path d="M645.3 135V190.2"/><path d="M759.5 145.4L785.5 142.2"/><path d="M359.4 217.8H406.7"/><path d="M405.9 236.4H411.4"/><path d="M311.5 263.5H324"/><path d="M315 279.5H342.8"/><path d="M315 304.5H348.5L371.5 284.8"/><path d="M405.8 268.5L400.9 277.1"/><path d="M399.3 304.5L408.3 297.1M399.3 304.5L418.9 298.7"/><path d="M495 282.4H454.9L441.8 291.4"/><path d="M260 307.5V326"/><path d="M341.2 352.5L332.5 356.2"/><path d="M341.2 372.5L330 386"/><path d="M393.7 403.7L350 424.5"/><path d="M642.5 340L680 307.5"/><path d="M693.7 303.7L705 335"/><path d="M746.8 351.5V364.5"/><path d="M822.5 352V358.7"/><path d="M142.5 632.5H165"/><path d="M198.7 652.7H227.6"/><path d="M203.7 687.5H249"/><path d="M207 710H274.1L284.4 677.6"/><path d="M482.5 617.7H490.4"/><path d="M460.4 633.6H488.8"/><path d="M454 654.4H490.4"/><path d="M982 491V567H947.5"/></g>
<!-- 90_labels.py -->
<g aria-label="97"><g transform="translate(254.05 62.40) scale(1.056 0.997)"><text font-size="19.2">9</text></g><g transform="translate(264.26 62.40) scale(1.056 0.997)"><text font-size="19.2">7</text></g></g>
<g aria-label="202"><g transform="translate(293.89 62.50) scale(1.154 0.946)"><text font-size="19.2">2</text></g><g transform="translate(306.85 62.50) scale(1.154 0.946)"><text font-size="19.2">0</text></g><g transform="translate(319.81 62.50) scale(1.154 0.946)"><text font-size="19.2">2</text></g></g>
<g aria-label="634"><g transform="translate(179.34 93.50) scale(1.181 1.018)"><text font-size="19.2">6</text></g><g transform="translate(191.04 93.50) scale(1.181 1.018)"><text font-size="19.2">3</text></g><g transform="translate(203.07 93.50) scale(1.181 1.018)"><text font-size="19.2">4</text></g></g>
<g aria-label="152"><g transform="translate(289.99 92.50) scale(1.144 1.004)" clip-path="url(#one)"><text font-size="19.2">1</text></g><g transform="translate(299.27 92.50) scale(1.144 1.004)"><text font-size="19.2">5</text></g><g transform="translate(310.40 92.50) scale(1.144 1.004)"><text font-size="19.2">2</text></g></g>
<g aria-label="154"><g transform="translate(272.60 115.50) scale(1.120 0.982)" clip-path="url(#one)"><text font-size="19.2">1</text></g><g transform="translate(281.72 115.50) scale(1.120 0.982)"><text font-size="19.2">5</text></g><g transform="translate(293.19 115.50) scale(1.120 0.982)"><text font-size="19.2">4</text></g></g>
<g aria-label="609"><g transform="translate(403.30 83.00) scale(1.225 1.004)"><text font-size="19.2">6</text></g><g transform="translate(415.46 83.00) scale(1.225 1.004)"><text font-size="19.2">0</text></g><g transform="translate(427.55 83.00) scale(1.225 1.004)"><text font-size="19.2">9</text></g></g>
<g aria-label="52"><g transform="translate(495.35 78.00) scale(1.110 0.982)"><text font-size="19.2">5</text></g><g transform="translate(506.24 78.00) scale(1.110 0.982)"><text font-size="19.2">2</text></g></g>
<g aria-label="124"><g transform="translate(501.49 130.00) scale(1.144 1.004)" clip-path="url(#one)"><text font-size="19.2">1</text></g><g transform="translate(510.57 130.00) scale(1.144 1.004)"><text font-size="19.2">2</text></g><g transform="translate(522.14 130.00) scale(1.144 1.004)"><text font-size="19.2">4</text></g></g>
<g aria-label="95"><g transform="translate(415.26 153.00) scale(1.157 1.091)"><text font-size="19.2">9</text></g><g transform="translate(426.71 153.00) scale(1.157 1.091)"><text font-size="19.2">5</text></g></g>
<g aria-label="96"><g transform="translate(416.04 172.60) scale(1.179 1.062)"><text font-size="19.2">9</text></g><g transform="translate(427.33 172.60) scale(1.179 1.062)"><text font-size="19.2">6</text></g></g>
<g aria-label="218"><g transform="translate(550.35 209.70) scale(1.198 0.982)"><text font-size="19.2">2</text></g><g transform="translate(559.05 209.70) scale(1.198 0.982)" clip-path="url(#one)"><text font-size="19.2">1</text></g><g transform="translate(568.72 209.70) scale(1.198 0.982)"><text font-size="19.2">8</text></g></g>
<g aria-label="217"><g transform="translate(592.58 209.70) scale(1.169 0.982)"><text font-size="19.2">2</text></g><g transform="translate(600.99 209.70) scale(1.169 0.982)" clip-path="url(#one)"><text font-size="19.2">1</text></g><g transform="translate(610.17 209.70) scale(1.169 0.982)"><text font-size="19.2">7</text></g></g>
<g aria-label="216"><g transform="translate(631.35 209.70) scale(1.198 0.982)"><text font-size="19.2">2</text></g><g transform="translate(640.41 209.70) scale(1.198 0.982)" clip-path="url(#one)"><text font-size="19.2">1</text></g><g transform="translate(650.25 209.70) scale(1.198 0.982)"><text font-size="19.2">6</text></g></g>
<g aria-label="256"><g transform="translate(722.60 107.00) scale(1.151 1.018)"><text font-size="19.2">2</text></g><g transform="translate(733.79 107.00) scale(1.151 1.018)"><text font-size="19.2">5</text></g><g transform="translate(744.91 107.00) scale(1.151 1.018)"><text font-size="19.2">6</text></g></g>
<g aria-label="414"><g transform="translate(787.03 145.70) scale(1.075 0.960)"><text font-size="19.2">4</text></g><g transform="translate(795.41 145.70) scale(1.075 0.960)" clip-path="url(#one)"><text font-size="19.2">1</text></g><g transform="translate(804.64 145.70) scale(1.075 0.960)"><text font-size="19.2">4</text></g></g>
<g aria-label="542"><g transform="translate(787.84 167.50) scale(1.114 1.004)"><text font-size="19.2">5</text></g><g transform="translate(799.27 167.50) scale(1.114 1.004)"><text font-size="19.2">4</text></g><g transform="translate(810.40 167.50) scale(1.114 1.004)"><text font-size="19.2">2</text></g></g>
<g aria-label="203"><g transform="translate(409.86 224.00) scale(1.188 0.982)"><text font-size="19.2">2</text></g><g transform="translate(421.46 224.00) scale(1.188 0.982)"><text font-size="19.2">0</text></g><g transform="translate(433.34 224.00) scale(1.188 0.982)"><text font-size="19.2">3</text></g></g>
<g aria-label="205"><g transform="translate(411.37 243.70) scale(1.176 0.997)"><text font-size="19.2">2</text></g><g transform="translate(422.88 243.70) scale(1.176 0.997)"><text font-size="19.2">0</text></g><g transform="translate(434.62 243.70) scale(1.176 0.997)"><text font-size="19.2">5</text></g></g>
<g aria-label="147"><g transform="translate(279.57 268.70) scale(1.126 0.997)" clip-path="url(#one)"><text font-size="19.2">1</text></g><g transform="translate(289.08 268.70) scale(1.126 0.997)"><text font-size="19.2">4</text></g><g transform="translate(300.28 268.70) scale(1.126 0.997)"><text font-size="19.2">7</text></g></g>
<g aria-label="114"><g transform="translate(279.60 289.30) scale(1.225 1.004)" clip-path="url(#one)"><text font-size="19.2">1</text></g><g transform="translate(287.41 289.30) scale(1.225 1.004)" clip-path="url(#one)"><text font-size="19.2">1</text></g><g transform="translate(298.83 289.30) scale(1.225 1.004)"><text font-size="19.2">4</text></g></g>
<g aria-label="117"><g transform="translate(279.60 310.00) scale(1.225 1.004)" clip-path="url(#one)"><text font-size="19.2">1</text></g><g transform="translate(287.39 310.00) scale(1.225 1.004)" clip-path="url(#one)"><text font-size="19.2">1</text></g><g transform="translate(298.13 310.00) scale(1.225 1.004)"><text font-size="19.2">7</text></g></g>
<g aria-label="116"><g transform="translate(401.10 267.50) scale(1.225 1.004)" clip-path="url(#one)"><text font-size="19.2">1</text></g><g transform="translate(409.91 267.50) scale(1.225 1.004)" clip-path="url(#one)"><text font-size="19.2">1</text></g><g transform="translate(421.68 267.50) scale(1.225 1.004)"><text font-size="19.2">6</text></g></g>
<g aria-label="681"><g transform="translate(492.10 267.20) scale(1.225 1.004)"><text font-size="19.2">6</text></g><g transform="translate(505.07 267.20) scale(1.225 1.004)"><text font-size="19.2">8</text></g><g transform="translate(514.93 267.20) scale(1.225 1.004)" clip-path="url(#one)"><text font-size="19.2">1</text></g></g>
<g aria-label="149"><g transform="translate(492.30 288.80) scale(1.225 1.004)" clip-path="url(#one)"><text font-size="19.2">1</text></g><g transform="translate(503.04 288.80) scale(1.225 1.004)"><text font-size="19.2">4</text></g><g transform="translate(515.85 288.80) scale(1.225 1.004)"><text font-size="19.2">9</text></g></g>
<g aria-label="118"><g transform="translate(493.30 314.00) scale(1.225 1.004)" clip-path="url(#one)"><text font-size="19.2">1</text></g><g transform="translate(501.96 314.00) scale(1.225 1.004)" clip-path="url(#one)"><text font-size="19.2">1</text></g><g transform="translate(513.76 314.00) scale(1.225 1.004)"><text font-size="19.2">8</text></g></g>
<g aria-label="148"><g transform="translate(364.35 315.70) scale(1.171 0.960)" clip-path="url(#one)"><text font-size="19.2">1</text></g><g transform="translate(374.77 315.70) scale(1.171 0.960)"><text font-size="19.2">4</text></g><g transform="translate(387.18 315.70) scale(1.171 0.960)"><text font-size="19.2">8</text></g></g>
<g aria-label="612"><g transform="translate(246.32 341.20) scale(1.206 0.997)"><text font-size="19.2">6</text></g><g transform="translate(255.08 341.20) scale(1.206 0.997)" clip-path="url(#one)"><text font-size="19.2">1</text></g><g transform="translate(264.51 341.20) scale(1.206 0.997)"><text font-size="19.2">2</text></g></g>
<g aria-label="190"><g transform="translate(336.73 358.00) scale(1.198 0.982)" clip-path="url(#one)"><text font-size="19.2">1</text></g><g transform="translate(346.87 358.00) scale(1.198 0.982)"><text font-size="19.2">9</text></g><g transform="translate(359.33 358.00) scale(1.198 0.982)"><text font-size="19.2">0</text></g></g>
<g aria-label="191"><g transform="translate(336.64 378.70) scale(1.216 0.997)" clip-path="url(#one)"><text font-size="19.2">1</text></g><g transform="translate(347.87 378.70) scale(1.216 0.997)"><text font-size="19.2">9</text></g><g transform="translate(358.29 378.70) scale(1.216 0.997)" clip-path="url(#one)"><text font-size="19.2">1</text></g></g>
<g aria-label="181"><g transform="translate(390.76 408.00) scale(1.129 0.982)" clip-path="url(#one)"><text font-size="19.2">1</text></g><g transform="translate(399.83 408.00) scale(1.129 0.982)"><text font-size="19.2">8</text></g><g transform="translate(408.15 408.00) scale(1.129 0.982)" clip-path="url(#one)"><text font-size="19.2">1</text></g></g>
<g aria-label="180"><g transform="translate(436.73 408.00) scale(1.198 0.982)" clip-path="url(#one)"><text font-size="19.2">1</text></g><g transform="translate(447.27 408.00) scale(1.198 0.982)"><text font-size="19.2">8</text></g><g transform="translate(460.13 408.00) scale(1.198 0.982)"><text font-size="19.2">0</text></g></g>
<g aria-label="392"><g transform="translate(606.63 347.50) scale(1.195 1.004)"><text font-size="19.2">3</text></g><g transform="translate(618.19 347.50) scale(1.195 1.004)"><text font-size="19.2">9</text></g><g transform="translate(629.62 347.50) scale(1.195 1.004)"><text font-size="19.2">2</text></g></g>
<g aria-label="432"><g transform="translate(695.71 347.50) scale(1.114 1.004)"><text font-size="19.2">4</text></g><g transform="translate(707.09 347.50) scale(1.114 1.004)"><text font-size="19.2">3</text></g><g transform="translate(717.90 347.50) scale(1.114 1.004)"><text font-size="19.2">2</text></g></g>
<g aria-label="434"><g transform="translate(829.51 302.50) scale(1.114 1.004)"><text font-size="19.2">4</text></g><g transform="translate(840.98 302.50) scale(1.114 1.004)"><text font-size="19.2">3</text></g><g transform="translate(852.45 302.50) scale(1.114 1.004)"><text font-size="19.2">4</text></g></g>
<g aria-label="435"><g transform="translate(838.19 350.00) scale(1.144 1.004)"><text font-size="19.2">4</text></g><g transform="translate(849.90 350.00) scale(1.144 1.004)"><text font-size="19.2">3</text></g><g transform="translate(861.23 350.00) scale(1.144 1.004)"><text font-size="19.2">5</text></g></g>
<g aria-label="433"><g transform="translate(804.52 375.00) scale(1.094 1.004)"><text font-size="19.2">4</text></g><g transform="translate(815.80 375.00) scale(1.094 1.004)"><text font-size="19.2">3</text></g><g transform="translate(826.76 375.00) scale(1.094 1.004)"><text font-size="19.2">3</text></g></g>
<g aria-label="394"><g transform="translate(729.22 382.50) scale(1.064 1.004)"><text font-size="19.2">3</text></g><g transform="translate(739.62 382.50) scale(1.064 1.004)"><text font-size="19.2">9</text></g><g transform="translate(750.45 382.50) scale(1.064 1.004)"><text font-size="19.2">4</text></g></g>
<g aria-label="454"><g transform="translate(693.20 407.50) scale(1.124 1.004)"><text font-size="19.2">4</text></g><g transform="translate(704.63 407.50) scale(1.124 1.004)"><text font-size="19.2">5</text></g><g transform="translate(716.15 407.50) scale(1.124 1.004)"><text font-size="19.2">4</text></g></g>
<g aria-label="90"><g transform="translate(841.75 433.00) scale(1.269 1.040)"><text font-size="19.2">9</text></g><g transform="translate(855.83 433.00) scale(1.269 1.040)"><text font-size="19.2">0</text></g></g>
<g aria-label="356"><g transform="translate(166.67 640.00) scale(1.134 1.004)"><text font-size="19.2">3</text></g><g transform="translate(177.87 640.00) scale(1.134 1.004)"><text font-size="19.2">5</text></g><g transform="translate(188.87 640.00) scale(1.134 1.004)"><text font-size="19.2">6</text></g></g>
<g aria-label="621"><g transform="translate(165.80 660.00) scale(1.225 1.004)"><text font-size="19.2">6</text></g><g transform="translate(179.22 660.00) scale(1.225 1.004)"><text font-size="19.2">2</text></g><g transform="translate(189.53 660.00) scale(1.225 1.004)" clip-path="url(#one)"><text font-size="19.2">1</text></g></g>
<g aria-label="267"><g transform="translate(166.95 693.70) scale(1.096 0.997)"><text font-size="19.2">2</text></g><g transform="translate(177.45 693.70) scale(1.096 0.997)"><text font-size="19.2">6</text></g><g transform="translate(188.07 693.70) scale(1.096 0.997)"><text font-size="19.2">7</text></g></g>
<g aria-label="265"><g transform="translate(167.60 717.00) scale(1.151 1.018)"><text font-size="19.2">2</text></g><g transform="translate(178.54 717.00) scale(1.151 1.018)"><text font-size="19.2">6</text></g><g transform="translate(189.87 717.00) scale(1.151 1.018)"><text font-size="19.2">5</text></g></g>
<g aria-label="526"><g transform="translate(302.17 736.20) scale(1.076 0.997)"><text font-size="19.2">5</text></g><g transform="translate(312.75 736.20) scale(1.076 0.997)"><text font-size="19.2">2</text></g><g transform="translate(323.14 736.20) scale(1.076 0.997)"><text font-size="19.2">6</text></g></g>
<g aria-label="224"><g transform="translate(490.16 625.00) scale(1.084 1.004)"><text font-size="19.2">2</text></g><g transform="translate(500.57 625.00) scale(1.084 1.004)"><text font-size="19.2">2</text></g><g transform="translate(511.55 625.00) scale(1.084 1.004)"><text font-size="19.2">4</text></g></g>
<g aria-label="204"><g transform="translate(490.14 642.50) scale(1.104 1.004)"><text font-size="19.2">2</text></g><g transform="translate(501.06 642.50) scale(1.104 1.004)"><text font-size="19.2">0</text></g><g transform="translate(512.55 642.50) scale(1.104 1.004)"><text font-size="19.2">4</text></g></g>
<g aria-label="223"><g transform="translate(491.39 661.20) scale(1.156 0.997)"><text font-size="19.2">2</text></g><g transform="translate(502.39 661.20) scale(1.156 0.997)"><text font-size="19.2">2</text></g><g transform="translate(513.66 661.20) scale(1.156 0.997)"><text font-size="19.2">3</text></g></g>
<g aria-label="209"><g transform="translate(451.36 703.00) scale(1.188 0.982)"><text font-size="19.2">2</text></g><g transform="translate(462.95 703.00) scale(1.188 0.982)"><text font-size="19.2">0</text></g><g transform="translate(474.61 703.00) scale(1.188 0.982)"><text font-size="19.2">9</text></g></g>
<g aria-label="536"><g transform="translate(746.12 486.20) scale(1.147 1.033)"><text font-size="19.2">5</text></g><g transform="translate(757.60 486.20) scale(1.147 1.033)"><text font-size="19.2">3</text></g><g transform="translate(768.75 486.20) scale(1.147 1.033)"><text font-size="19.2">6</text></g></g>
<g aria-label="535"><g transform="translate(967.15 485.00) scale(1.104 1.004)"><text font-size="19.2">5</text></g><g transform="translate(978.18 485.00) scale(1.104 1.004)"><text font-size="19.2">3</text></g><g transform="translate(989.12 485.00) scale(1.104 1.004)"><text font-size="19.2">5</text></g></g>
<g aria-label="534"><g transform="translate(682.84 686.20) scale(1.126 0.997)"><text font-size="19.2">5</text></g><g transform="translate(694.09 686.20) scale(1.126 0.997)"><text font-size="19.2">3</text></g><g transform="translate(705.63 686.20) scale(1.126 0.997)"><text font-size="19.2">4</text></g></g>
<g aria-label="163"><g transform="translate(809.01 694.50) scale(1.242 1.018)" clip-path="url(#one)"><text font-size="19.2">1</text></g><g transform="translate(818.58 694.50) scale(1.242 1.018)"><text font-size="19.2">6</text></g><g transform="translate(830.81 694.50) scale(1.242 1.018)"><text font-size="19.2">3</text></g></g>
</svg>
</body></html>
